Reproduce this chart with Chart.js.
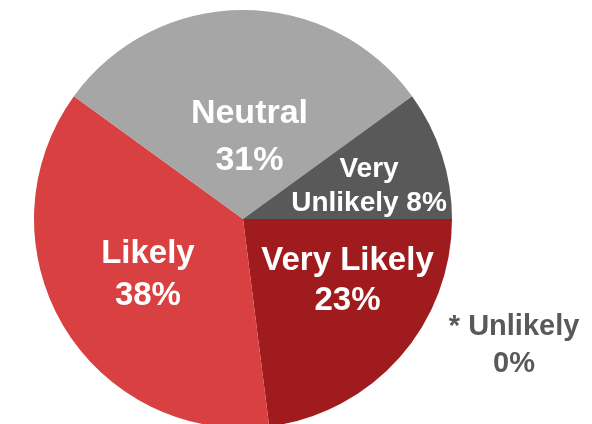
<!DOCTYPE html>
<html>
<head>
<meta charset="utf-8">
<script src="https://cdn.jsdelivr.net/npm/chart.js@4.4.1/dist/chart.umd.min.js"></script>
<style>
  html, body { margin: 0; padding: 0; background: #fff; }
  #wrap { width: 592px; height: 424px; position: relative; }
</style>
</head>
<body>
<div id="wrap"><canvas id="pieChart"></canvas></div>
<script>
const categories = ['Very Likely', 'Likely', 'Neutral', 'Very Unlikely', 'Unlikely'];
const shares = [23, 37, 30, 10, 0];
// Text printed on / beside each slice
const sliceLabels = [
    ['Very Likely', '23%'],
    ['Likely', '38%'],
    ['Neutral', '31%'],
    ['Very', 'Unlikely 8%'],
    ['* Unlikely', '0%']
];
const sliceColors = ['#a01b1e', '#d94041', '#a6a6a6', '#595959', '#595959'];

// where each label sits, as fractions of the pie radius from the centre
const labelPlacement = [
    { dx: 0.50, dy: 0.244, gap: 40, size: 33, color: '#ffffff' },
    { dx: -0.455, dy: 0.21, gap: 42, size: 33, color: '#ffffff' },
    { dx: 0.031, dy: -0.459, gap: 47, size: 34, color: '#ffffff' },
    { dx: 0.603, dy: -0.201, gap: 34, size: 28, color: '#ffffff' },
    { dx: 1.297, dy: 0.555, gap: 37, size: 29, color: '#595959' }
];

// draw the slice labels after the pie
const sliceLabelPlugin = {
    id: 'sliceLabels',
    afterDatasetsDraw(chart) {
        const ctx = chart.ctx;
        const arcs = chart.getDatasetMeta(0).data;
        ctx.save();
        ctx.textAlign = 'center';
        ctx.textBaseline = 'alphabetic';
        arcs.forEach((arc, i) => {
            const p = labelPlacement[i];
            const r = arc.outerRadius;
            const x = arc.x + p.dx * r;
            const y = arc.y + p.dy * r;
            ctx.fillStyle = p.color;
            ctx.font = `bold ${p.size}px "Liberation Sans", Arial, sans-serif`;
            sliceLabels[i].forEach((line, j) => {
                ctx.fillText(line, x, y + j * p.gap);
            });
        });
        ctx.restore();
    }
};

const pieChart = new Chart(document.getElementById('pieChart'), {
    type: 'pie',
    data: {
        labels: categories,
        datasets: [{
            data: shares,
            backgroundColor: sliceColors,
            borderWidth: 0,
            radius: 209
        }]
    },
    options: {
        responsive: true,
        maintainAspectRatio: false,
        animation: false,
        rotation: 90,
        layout: {
            padding: { left: 0, right: 106, top: 14, bottom: 0 }
        },
        plugins: {
            legend: { display: false },
            tooltip: { enabled: false }
        }
    },
    plugins: [sliceLabelPlugin]
});
</script>
</body>
</html>
